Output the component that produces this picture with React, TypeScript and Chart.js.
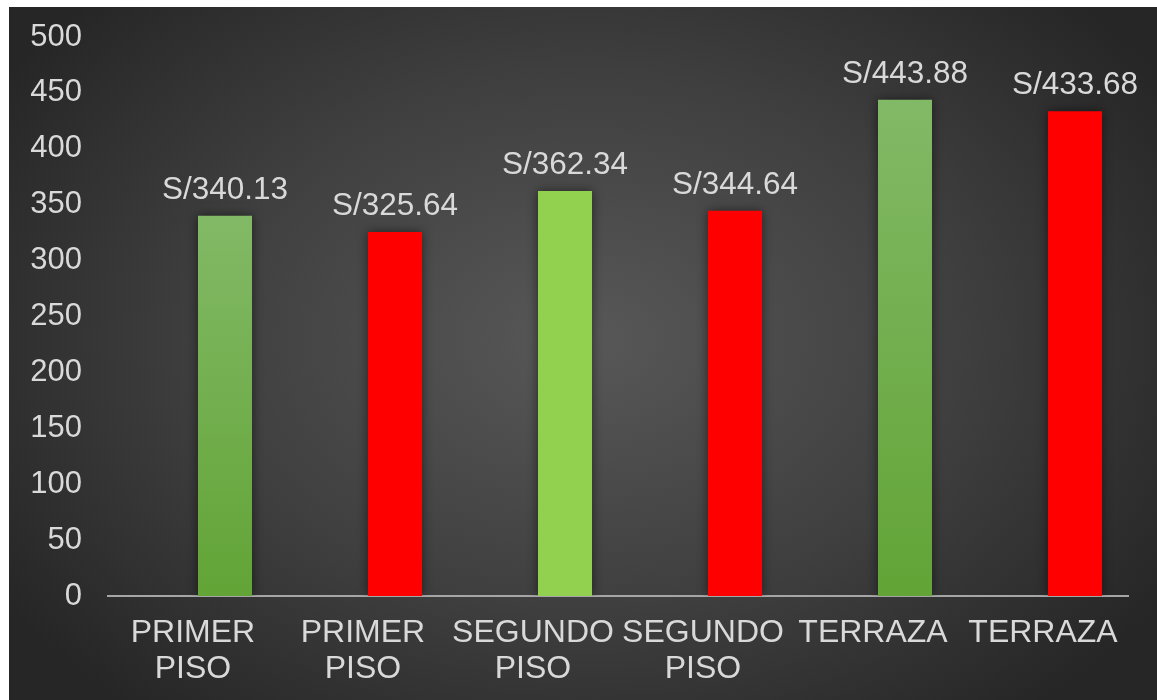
import React, { useEffect, useRef } from "react";
import { Chart, registerables } from "chart.js";

Chart.register(...registerables);

const categories: (string | string[])[] = [
  ["PRIMER", "PISO"],
  ["PRIMER", "PISO"],
  ["SEGUNDO", "PISO"],
  ["SEGUNDO", "PISO"],
  "TERRAZA",
  "TERRAZA",
];
const values = [340.13, 325.64, 362.34, 344.64, 443.88, 433.68];
const emptySeries = [null, null, null, null, null, null];
const yMin = 0;
const yMax = 500;
const yStep = 50;

const barKinds = ["green", "red", "light", "red", "green", "red"];
const FONT = "'Liberation Sans', Arial, sans-serif";
const TEXT = "#d9d9d9";

export default function App() {
  const ref = useRef<HTMLCanvasElement>(null);

  useEffect(() => {
    if (!ref.current) return;

    const labelPlugin = {
      id: "valueLabels",
      afterDatasetsDraw(chart: any) {
        const ctx = chart.ctx;
        const meta = chart.getDatasetMeta(1);
        ctx.save();
        ctx.font = `31.5px ${FONT}`;
        ctx.fillStyle = TEXT;
        ctx.textAlign = "center";
        ctx.textBaseline = "alphabetic";
        meta.data.forEach((bar: any, i: number) => {
          ctx.fillText("S/" + values[i].toFixed(2), bar.x, bar.y - 17);
        });
        ctx.restore();
      },
    };

    const shadowPlugin = {
      id: "barShadow",
      beforeDatasetDraw(chart: any) {
        const ctx = chart.ctx;
        ctx.save();
        ctx.shadowColor = "rgba(0,0,0,0.55)";
        ctx.shadowBlur = 10;
        ctx.shadowOffsetX = 0;
        ctx.shadowOffsetY = 0;
      },
      afterDatasetDraw(chart: any) {
        chart.ctx.restore();
      },
    };

    const bg = (c: any) => {
      const kind = barKinds[c.dataIndex];
      if (kind === "red") return "#ff0000";
      if (kind === "light") return "#92d050";
      const chart = c.chart;
      const ys = chart.scales?.y;
      if (!ys) return "#70ad47";
      const top = ys.getPixelForValue(values[c.dataIndex]);
      const bottom = ys.getPixelForValue(0);
      if (!isFinite(top) || !isFinite(bottom) || top === bottom) return "#70ad47";
      const g = chart.ctx.createLinearGradient(0, top, 0, bottom);
      g.addColorStop(0, "#82b966");
      g.addColorStop(1, "#62a436");
      return g;
    };

    const chart = new Chart(ref.current, {
      type: "bar",
      data: {
        labels: categories,
        datasets: [
          { data: emptySeries as any, backgroundColor: "transparent" },
          { data: values, backgroundColor: bg as any, borderWidth: 0 },
        ],
      },
      options: {
        animation: false,
        responsive: false,
        maintainAspectRatio: false,
        layout: { padding: { top: 30, right: 29, left: 0, bottom: 0 } },
        datasets: { bar: { categoryPercentage: 0.753, barPercentage: 0.844 } },
        plugins: {
          legend: { display: false },
          tooltip: { enabled: false },
        },
        scales: {
          x: {
            grid: { display: false, drawTicks: false },
            border: { display: true, color: "#a6a6a6", width: 2 },
            ticks: {
              color: TEXT,
              font: { family: FONT, size: 32, lineHeight: 1.1 },
              padding: 20,
              maxRotation: 0,
              autoSkip: false,
            },
            afterFit: (s: any) => {
              s.height = 104;
              s.paddingLeft = 0;
              s.paddingRight = 0;
            },
          },
          y: {
            min: yMin,
            max: yMax,
            grid: { display: false, drawTicks: false },
            border: { display: false },
            ticks: {
              stepSize: yStep,
              color: TEXT,
              font: { family: FONT, size: 31 },
              padding: 26,
            },
            afterFit: (s: any) => {
              s.width = 99;
              s.paddingTop = 0;
              s.paddingBottom = 0;
            },
          },
        },
      },
      plugins: [shadowPlugin, labelPlugin],
    });

    return () => chart.destroy();
  }, []);

  return (
    <div
      style={{
        position: "absolute",
        left: 9,
        top: 7,
        width: 1148,
        height: 693,
        background:
          "radial-gradient(ellipse 60% 70% at 50% 48%, #585858 0%, #3f3f3f 55%, #262626 100%)",
      }}
    >
      <canvas ref={ref} width={1148} height={693} style={{ display: "block" }} />
    </div>
  );
}
